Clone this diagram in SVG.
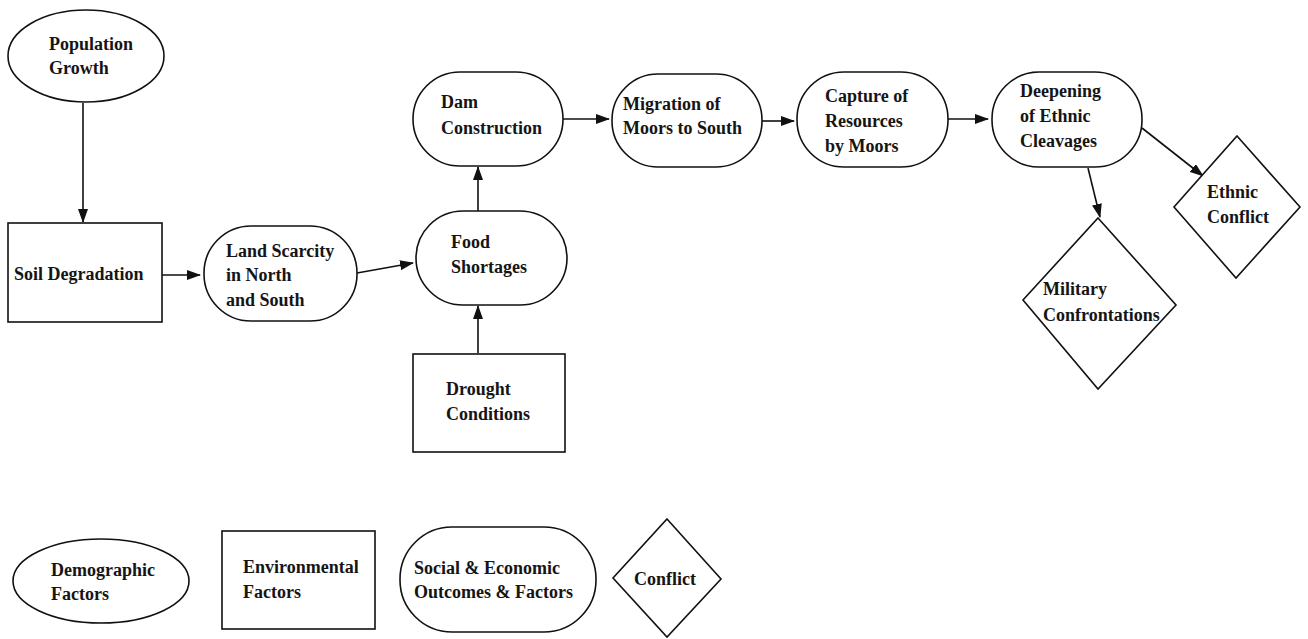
<svg xmlns="http://www.w3.org/2000/svg" width="1308" height="639" viewBox="0 0 1308 639">
  <style>
    .shape { fill: #ffffff; stroke: #111111; stroke-width: 1.6; }
    .label { font-family: "Liberation Serif", "Times New Roman", serif; font-weight: bold; font-size: 18px; fill: #151515; }
    .edge { fill: none; stroke: #111111; stroke-width: 1.6; marker-end: url(#arrow); }
  </style>
  <defs>
    <marker id="arrow" markerUnits="userSpaceOnUse" markerWidth="14" markerHeight="10" refX="13" refY="5" orient="auto">
      <path d="M0,0 L14,5 L0,10 Z" fill="#111111"/>
    </marker>
  </defs>
  <rect width="1308" height="639" fill="#ffffff"/>

  <!-- connectors -->
  <g id="connectors">
    <path class="edge" d="M83,103 L83,222"/>
    <path class="edge" d="M162,275 L200,275"/>
    <path class="edge" d="M357,273 L413,263"/>
    <path class="edge" d="M478,353 L478,306"/>
    <path class="edge" d="M478,211 L478,167"/>
    <path class="edge" d="M563,119 L609,119"/>
    <path class="edge" d="M762,121 L794,121"/>
    <path class="edge" d="M948,119 L988,119"/>
    <path class="edge" d="M1088,168 L1100,217"/>
    <path class="edge" d="M1142,128 L1203,176"/>
  </g>

  <!-- demographic -->
  <g id="population-growth">
    <ellipse class="shape" cx="86" cy="56" rx="78" ry="46"/>
    <text class="label" x="49" y="50">Population</text>
    <text class="label" x="49" y="74">Growth</text>
  </g>

  <!-- environmental -->
  <g id="soil-degradation">
    <rect class="shape" x="8" y="223" width="154" height="99"/>
    <text class="label" x="14" y="280">Soil Degradation</text>
  </g>
  <g id="drought-conditions">
    <rect class="shape" x="413" y="354" width="152" height="98"/>
    <text class="label" x="446" y="395">Drought</text>
    <text class="label" x="446" y="420">Conditions</text>
  </g>

  <!-- social & economic -->
  <g id="land-scarcity">
    <rect class="shape" x="204" y="226" width="153" height="95" rx="47" ry="47"/>
    <text class="label" x="226" y="257">Land Scarcity</text>
    <text class="label" x="226" y="281">in North</text>
    <text class="label" x="226" y="306">and South</text>
  </g>
  <g id="food-shortages">
    <rect class="shape" x="416" y="211" width="151" height="94" rx="47" ry="47"/>
    <text class="label" x="451" y="248">Food</text>
    <text class="label" x="451" y="273">Shortages</text>
  </g>
  <g id="dam-construction">
    <rect class="shape" x="413" y="72" width="150" height="94" rx="47" ry="47"/>
    <text class="label" x="441" y="108">Dam</text>
    <text class="label" x="441" y="134">Construction</text>
  </g>
  <g id="migration">
    <rect class="shape" x="612" y="74" width="150" height="93" rx="46" ry="46"/>
    <text class="label" x="623" y="110">Migration of</text>
    <text class="label" x="623" y="134">Moors to South</text>
  </g>
  <g id="capture-of-resources">
    <rect class="shape" x="797" y="72" width="151" height="95" rx="47" ry="47"/>
    <text class="label" x="825" y="102">Capture of</text>
    <text class="label" x="825" y="127">Resources</text>
    <text class="label" x="825" y="152">by Moors</text>
  </g>
  <g id="ethnic-cleavages">
    <rect class="shape" x="992" y="72" width="150" height="95" rx="47" ry="47"/>
    <text class="label" x="1020" y="97">Deepening</text>
    <text class="label" x="1020" y="122">of Ethnic</text>
    <text class="label" x="1020" y="147">Cleavages</text>
  </g>

  <!-- conflict -->
  <g id="ethnic-conflict">
    <polygon class="shape" points="1237,136 1300,207 1236,278 1174,207"/>
    <text class="label" x="1207" y="198">Ethnic</text>
    <text class="label" x="1207" y="223">Conflict</text>
  </g>
  <g id="military-confrontations">
    <polygon class="shape" points="1098,218 1176,305 1098,389 1023,300"/>
    <text class="label" x="1043" y="295">Military</text>
    <text class="label" x="1043" y="321">Confrontations</text>
  </g>

  <!-- legend -->
  <g id="legend-demographic">
    <ellipse class="shape" cx="101" cy="581" rx="88" ry="42"/>
    <text class="label" x="51" y="576">Demographic</text>
    <text class="label" x="51" y="600">Factors</text>
  </g>
  <g id="legend-environmental">
    <rect class="shape" x="222" y="531" width="153" height="98"/>
    <text class="label" x="243" y="573">Environmental</text>
    <text class="label" x="243" y="598">Factors</text>
  </g>
  <g id="legend-social">
    <rect class="shape" x="400" y="527" width="196" height="105" rx="52" ry="52"/>
    <text class="label" x="414" y="574">Social &amp; Economic</text>
    <text class="label" x="414" y="598">Outcomes &amp; Factors</text>
  </g>
  <g id="legend-conflict">
    <polygon class="shape" points="667,519 721,579 667,637 613,578"/>
    <text class="label" x="634" y="585">Conflict</text>
  </g>
</svg>
